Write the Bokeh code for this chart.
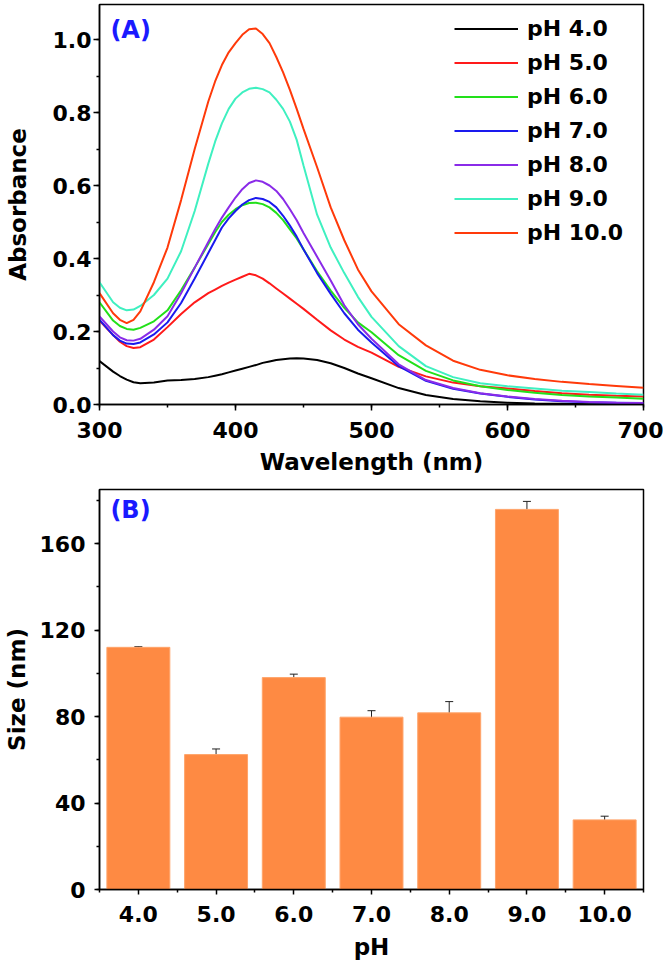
from bokeh.plotting import figure
from bokeh.models import (ColumnDataSource, Legend, LegendItem, Range1d, SingleIntervalTicker,
                          FixedTicker, PrintfTickFormatter, Whisker, Label, TeeHead)
from bokeh.layouts import column
from bokeh.embed import file_html
from bokeh.resources import INLINE

# ---------------- data: panel A (UV-vis spectra) ----------------
wavelength = [300, 310, 315, 320, 325, 330, 340, 350, 360, 370, 380, 385, 390, 395, 400, 405,
              410, 415, 420, 425, 430, 435, 440, 445, 450, 460, 470, 480, 490, 500, 520, 540,
              560, 580, 600, 620, 640, 660, 680, 700]

abs_ph4 = [0.119, 0.090, 0.078, 0.068, 0.061, 0.058, 0.060, 0.066, 0.067, 0.070, 0.075, 0.079,
           0.083, 0.088, 0.093, 0.098, 0.103, 0.108, 0.114, 0.118, 0.122, 0.124, 0.126, 0.127,
           0.126, 0.122, 0.113, 0.100, 0.085, 0.072, 0.045, 0.026, 0.015, 0.009, 0.005, 0.003,
           0.002, 0.001, 0.001, 0.001]
abs_ph5 = [0.230, 0.190, 0.172, 0.160, 0.155, 0.157, 0.178, 0.212, 0.248, 0.280, 0.305, 0.315,
           0.325, 0.334, 0.342, 0.350, 0.358, 0.354, 0.345, 0.332, 0.318, 0.304, 0.290, 0.276,
           0.262, 0.232, 0.203, 0.178, 0.158, 0.142, 0.103, 0.077, 0.060, 0.050, 0.044, 0.037,
           0.031, 0.027, 0.024, 0.022]
abs_ph6 = [0.280, 0.230, 0.215, 0.207, 0.205, 0.210, 0.228, 0.258, 0.313, 0.375, 0.440, 0.472,
           0.500, 0.520, 0.535, 0.546, 0.552, 0.553, 0.549, 0.540, 0.525, 0.505, 0.480, 0.455,
           0.425, 0.365, 0.312, 0.265, 0.225, 0.198, 0.135, 0.092, 0.066, 0.050, 0.040, 0.032,
           0.026, 0.022, 0.019, 0.016]
abs_ph7 = [0.232, 0.190, 0.175, 0.167, 0.166, 0.170, 0.192, 0.225, 0.278, 0.345, 0.415, 0.450,
           0.485, 0.510, 0.530, 0.548, 0.560, 0.566, 0.563, 0.555, 0.540, 0.517, 0.490, 0.460,
           0.425, 0.360, 0.303, 0.250, 0.205, 0.170, 0.105, 0.065, 0.043, 0.030, 0.021, 0.014,
           0.009, 0.006, 0.005, 0.004]
abs_ph8 = [0.241, 0.200, 0.184, 0.176, 0.175, 0.180, 0.205, 0.242, 0.305, 0.375, 0.445, 0.480,
           0.512, 0.540, 0.567, 0.590, 0.607, 0.614, 0.610, 0.600, 0.585, 0.563, 0.535, 0.505,
           0.470, 0.405, 0.340, 0.272, 0.220, 0.180, 0.110, 0.067, 0.045, 0.031, 0.022, 0.015,
           0.010, 0.007, 0.005, 0.004]
abs_ph9 = [0.335, 0.280, 0.265, 0.258, 0.260, 0.270, 0.300, 0.345, 0.420, 0.530, 0.660, 0.720,
           0.770, 0.810, 0.838, 0.855, 0.865, 0.868, 0.864, 0.855, 0.835, 0.810, 0.775, 0.725,
           0.655, 0.520, 0.430, 0.360, 0.295, 0.240, 0.160, 0.105, 0.075, 0.058, 0.050, 0.044,
           0.038, 0.034, 0.030, 0.027]
abs_ph10 = [0.305, 0.250, 0.232, 0.223, 0.232, 0.255, 0.335, 0.430, 0.560, 0.700, 0.830, 0.885,
            0.930, 0.965, 0.990, 1.013, 1.028, 1.030, 1.015, 0.990, 0.952, 0.910, 0.862, 0.810,
            0.755, 0.650, 0.540, 0.450, 0.370, 0.310, 0.220, 0.162, 0.120, 0.095, 0.080, 0.070,
            0.062, 0.056, 0.051, 0.046]

series_labels = ["pH 4.0", "pH 5.0", "pH 6.0", "pH 7.0", "pH 8.0", "pH 9.0", "pH 10.0"]
series_values = [abs_ph4, abs_ph5, abs_ph6, abs_ph7, abs_ph8, abs_ph9, abs_ph10]
series_colors = ["#000000", "#ff1a1a", "#22e01a", "#1a1aee", "#8a2be8", "#3ff0c0", "#ff3a0a"]

# ---------------- data: panel B (size vs pH) ----------------
ph_values = [4.0, 5.0, 6.0, 7.0, 8.0, 9.0, 10.0]
size_nm = [112.0, 62.4, 98.0, 79.7, 81.7, 175.8, 32.2]
size_err = [0.3, 2.6, 1.6, 3.0, 5.2, 3.7, 1.7]

FONT = "DejaVu Sans"
TICK_FS = "22px"
TITLE_FS = "23px"


def style_axes(p, tick_out, label_standoff, title_standoff_x, title_standoff_y):
    p.xgrid.visible = False
    p.ygrid.visible = False
    p.outline_line_color = "black"
    p.outline_line_width = 1.5
    p.background_fill_color = "white"
    p.border_fill_color = "white"
    for ax in (p.xaxis[0], p.yaxis[0]):
        ax.axis_line_width = 1.5
        ax.axis_line_color = "black"
        ax.major_tick_line_width = 1.5
        ax.minor_tick_line_width = 1.5
        ax.major_tick_in = 0
        ax.minor_tick_in = 0
        ax.major_tick_out = tick_out
        ax.minor_tick_out = 3
        ax.major_label_text_font = FONT
        ax.major_label_text_font_style = "bold"
        ax.major_label_text_font_size = TICK_FS
        ax.major_label_text_color = "black"
        ax.axis_label_text_font = FONT
        ax.axis_label_text_font_style = "bold"
        ax.axis_label_text_font_size = TITLE_FS
        ax.axis_label_text_color = "black"
    p.xaxis[0].major_label_standoff = 11
    p.yaxis[0].major_label_standoff = label_standoff
    p.xaxis[0].axis_label_standoff = title_standoff_x
    p.yaxis[0].axis_label_standoff = title_standoff_y


# ---------------- panel A ----------------
pA = figure(width=663, height=484, x_range=Range1d(300, 700), y_range=Range1d(0, 1.0959),
            output_backend="svg", toolbar_location=None,
            min_border_left=99, min_border_right=20, min_border_top=4, min_border_bottom=80,
            x_axis_label="Wavelength (nm)", y_axis_label="Absorbance")
pA.xaxis.ticker = SingleIntervalTicker(interval=100, num_minor_ticks=2)
pA.yaxis.ticker = SingleIntervalTicker(interval=0.2, num_minor_ticks=2)
pA.yaxis.formatter = PrintfTickFormatter(format="%.1f")
style_axes(pA, 6, 2, 8, 19)

items = []
for lab, vals, col in zip(series_labels, series_values, series_colors):
    r = pA.line(wavelength, vals, line_color=col, line_width=2)
    items.append(LegendItem(label=lab, renderers=[r]))

legend = Legend(items=items, location=(355, 158), glyph_width=64, glyph_height=27,
                label_height=27, spacing=7, padding=0, margin=0, label_standoff=9,
                label_text_font=FONT, label_text_font_style="bold", label_text_font_size="22px",
                label_text_color="black",
                border_line_color=None, background_fill_alpha=0)
pA.add_layout(legend)

pA.add_layout(Label(x=308, y=1.027, text="(A)", text_font=FONT, text_font_style="bold",
                    text_font_size="24px", text_color="#1a1aff", text_baseline="middle"))

# ---------------- panel B ----------------
pB = figure(width=663, height=480, x_range=Range1d(3.5, 10.5), y_range=Range1d(0, 185),
            output_backend="svg", toolbar_location=None,
            min_border_left=99, min_border_right=20, min_border_top=5, min_border_bottom=75,
            x_axis_label="pH", y_axis_label="Size (nm)")
minor_pos = [v - 0.5 for v in ph_values] + [ph_values[-1] + 0.5]
pB.xaxis.ticker = FixedTicker(ticks=ph_values, minor_ticks=minor_pos)
pB.xaxis.formatter = PrintfTickFormatter(format="%.1f")
pB.yaxis.ticker = SingleIntervalTicker(interval=40, num_minor_ticks=2)
style_axes(pB, 5, 9, 9, 7)

src = ColumnDataSource(dict(
    ph=ph_values, size=size_nm,
    upper=[s + e for s, e in zip(size_nm, size_err)],
    lower=[s - e for s, e in zip(size_nm, size_err)],
))
pB.vbar(x="ph", top="size", width=0.81, source=src, fill_color="#fe8a43",
        line_color="#ffa46a", line_width=1)
wh = Whisker(base="ph", upper="upper", lower="lower", source=src,
             line_color="#222222", line_width=1,
             upper_head=TeeHead(size=8, line_color="#222222", line_width=1),
             lower_head=TeeHead(size=8, line_color="#222222", line_width=1))
pB.add_layout(wh)

pB.add_layout(Label(x=3.64, y=175.4, text="(B)", text_font=FONT, text_font_style="bold",
                    text_font_size="24px", text_color="#1a1aff", text_baseline="middle"))

layout = column(pA, pB, spacing=0)
open("out.html", "w").write(file_html(layout, INLINE))
